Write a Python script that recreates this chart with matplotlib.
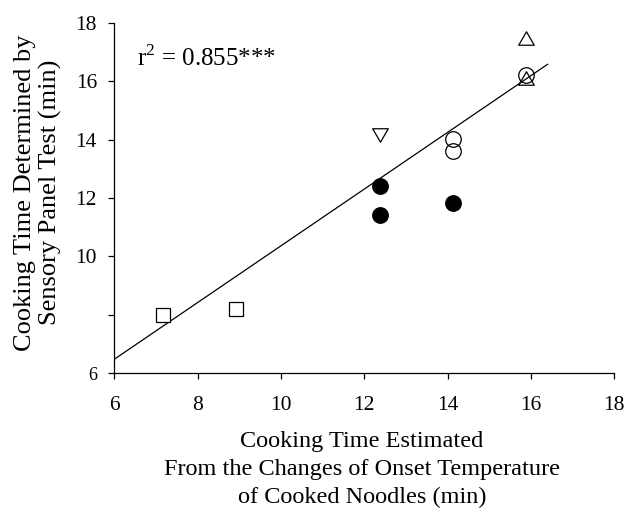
import matplotlib
matplotlib.use("Agg")
import matplotlib.pyplot as plt
from matplotlib.path import Path
import numpy as np

plt.rcParams['font.family'] = ['Liberation Serif', 'DejaVu Serif']
plt.rcParams['mathtext.fontset'] = 'custom'
plt.rcParams['mathtext.rm'] = 'Liberation Serif'

# Data groups (x: estimated, y: sensory panel)
square_x = [7.18, 8.91]
square_y = [8.00, 8.19]
tri_down_x = [12.38]
tri_down_y = [14.16]
filled_circle_x = [12.38, 12.38, 14.12]
filled_circle_y = [12.42, 11.42, 11.82]
open_circle_x = [14.12, 14.12, 15.87]
open_circle_y = [14.01, 13.62, 16.22]
tri_up_x = [15.87, 15.87]
tri_up_y = [17.47, 16.10]

fit_slope = 0.971
fit_intercept = 0.654
fit_x_range = [6.0, 16.4]

x_ticks = [6, 8, 10, 12, 14, 16, 18]
y_ticks = [6, 8, 10, 12, 14, 16, 18]
y_tick_labels = ['6', '', '10', '12', '14', '16', '18']

# equilateral triangle marker shapes
h = 0.866
tri_up = Path([(0, h), (-1, -h), (1, -h), (0, 0)],
              [Path.MOVETO, Path.LINETO, Path.LINETO, Path.CLOSEPOLY])
tri_dn = Path([(0, -h), (-1, h), (1, h), (0, 0)],
              [Path.MOVETO, Path.LINETO, Path.LINETO, Path.CLOSEPOLY])

fig = plt.figure(figsize=(6.26, 5.08), dpi=100)
ax = fig.add_axes([0.1826, 0.2652, 0.7987, 0.690])

fx = np.array(fit_x_range)
ax.plot(fx, fit_slope * fx + fit_intercept, color='black', lw=0.9, zorder=1)

kw = dict(linestyle='none', markeredgecolor='black', markeredgewidth=0.9, zorder=3)
ax.plot(square_x, square_y, marker='s', ms=9.6, markerfacecolor='white', **kw)
ax.plot(tri_down_x, tri_down_y, marker=tri_dn, ms=11.2, markerfacecolor='white', **kw)
ax.plot(filled_circle_x, filled_circle_y, marker='o', ms=11.2, markerfacecolor='black', **kw)
ax.plot(open_circle_x, open_circle_y, marker='o', ms=11.2, markerfacecolor='none', **kw)
ax.plot(tri_up_x, tri_up_y, marker=tri_up, ms=11.2, markerfacecolor='none', **kw)

ax.set_xlim(6, 18)
ax.set_ylim(6, 18)
ax.set_xticks(x_ticks)
ax.set_yticks(y_ticks)
ax.set_yticklabels(y_tick_labels)
for spine in ['top', 'right']:
    ax.spines[spine].set_visible(False)
for spine in ['left', 'bottom']:
    ax.spines[spine].set_linewidth(0.9)
ax.tick_params(direction='out', length=4, width=0.9, labelsize=15.5)
ax.tick_params(axis='x', pad=12)
ax.tick_params(axis='y', pad=8.5)
ax.get_yticklabels()[0].set_fontsize(13)

ax.text(6.54, 16.8, r'r$^2$ = 0.855***', fontsize=18, va='center', ha='left')

ax.set_xlabel('Cooking Time Estimated\nFrom the Changes of Onset Temperature\nof Cooked Noodles (min)',
              fontsize=17.5, linespacing=1.42)
ax.xaxis.set_label_coords(0.495, -0.165)
ax.set_ylabel('Cooking Time Determined by\nSensory Panel Test (min)',
              fontsize=19, linespacing=1.2)
ax.yaxis.set_label_coords(-0.104, 0.516)

fig.savefig('out.png', dpi=100)
